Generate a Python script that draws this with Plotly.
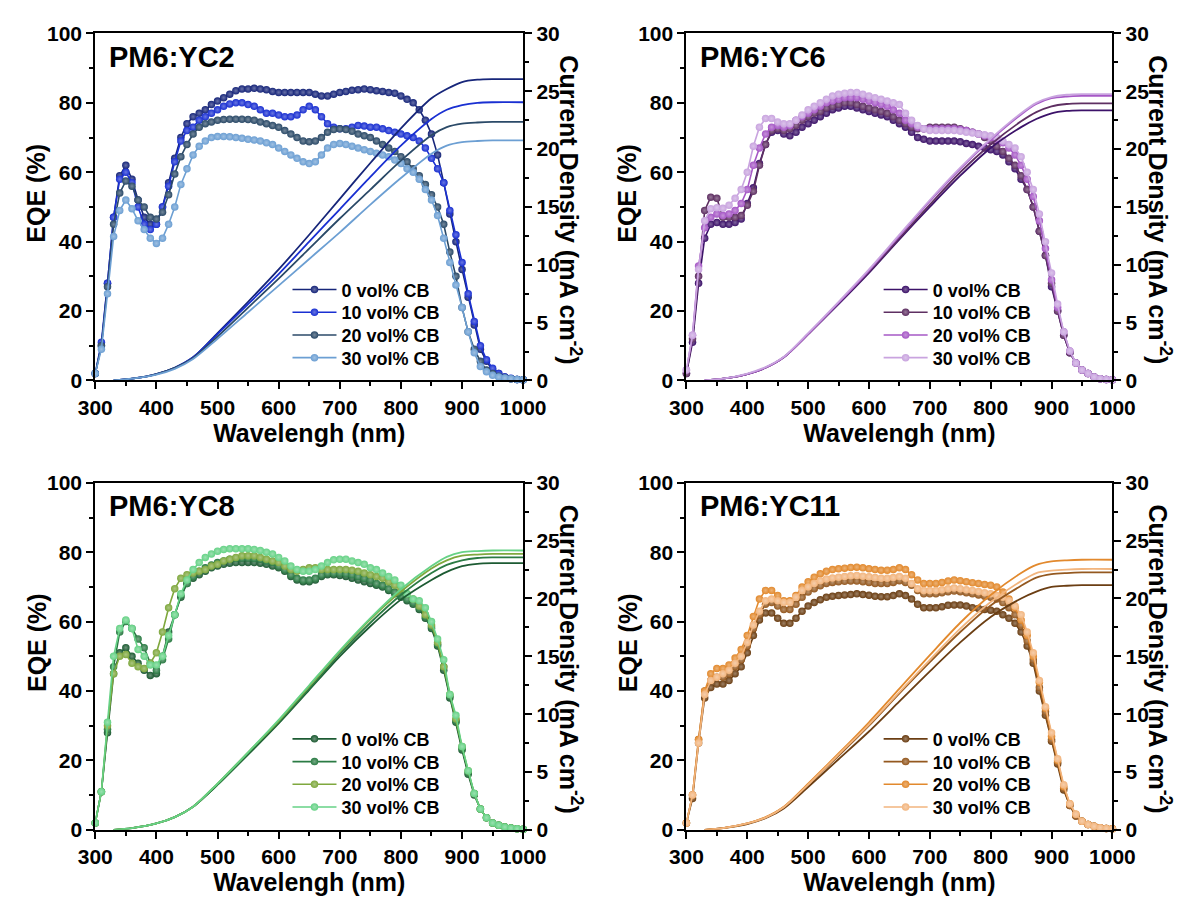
import plotly.graph_objects as go

# ---------------- data ----------------
WL = list(range(300, 1001, 10))          # EQE wavelength grid (nm)
JWL = [330, 360, 400, 430, 460, 500, 550, 600, 650, 700, 750, 800, 850, 875, 900, 925, 950, 1000]

SERIES = ["0 vol% CB", "10 vol% CB", "20 vol% CB", "30 vol% CB"]
PANELS = ["PM6:YC2", "PM6:YC6", "PM6:YC8", "PM6:YC11"]

X_TICKS = [300, 400, 500, 600, 700, 800, 900, 1000]
EQE_TICKS = [0, 20, 40, 60, 80, 100]
J_TICKS = [0, 5, 10, 15, 20, 25, 30]

# ---- PM6:YC2 ----
yc2_eqe_0 = [2, 10, 28, 47, 59, 62, 58, 52, 47, 45,
             45, 50, 57, 64, 70, 74, 76, 77, 78, 79.5,
             80.5, 81.5, 82.5, 83.5, 84, 84, 84.2, 84, 83.8, 83.3,
             83, 83, 83, 83, 83, 83, 82.5, 82, 82, 82.5,
             83, 83.3, 83.6, 83.8, 84, 83.8, 83.5, 83.3, 83, 82.8,
             82, 81, 80, 78, 75, 71, 65, 57, 48, 40,
             32, 24, 16, 9, 5.5, 3, 2, 1, 0.5, 0.3,
             0.2]
yc2_eqe_10 = [2, 11, 28, 47, 58, 60, 57, 50, 45, 43.5,
              45, 50, 56, 63, 69, 72, 73, 75, 76, 77,
              78, 79, 79.7, 80, 80, 79.5, 79, 78, 77, 77,
              76.5, 76, 76, 76.5, 78, 79, 78, 76, 74, 73,
              72.5, 72.5, 73, 73.5, 73.3, 73, 73, 72.5, 72, 71.5,
              71, 70.5, 70, 69, 67, 64, 61, 57, 49, 42,
              34, 25, 17, 10, 6, 3.5, 2, 1, 0.6, 0.3,
              0.2]
yc2_eqe_20 = [2, 10, 27, 45, 54, 57.5, 56, 52, 50, 47,
              46.5, 48.5, 53.5, 59.5, 64.5, 68, 71, 73, 74, 74.5,
              75, 75.2, 75.3, 75.3, 75.3, 75.2, 75, 74.5, 74, 73.5,
              73, 72, 71, 70, 69, 68.8, 69, 70, 71.5, 72.3,
              72.5, 72.3, 71.8, 71, 70.5, 70, 69, 68, 67, 66,
              64.5, 63, 61, 59, 56.5, 53.5, 50, 45, 37, 30,
              21, 14, 9, 5.5, 3, 2, 1.2, 0.8, 0.5, 0.3,
              0.2]
yc2_eqe_30 = [2, 9, 25, 41.5, 49, 52, 49.5, 46, 43.5, 41,
              39.5, 41, 45, 50, 56.5, 61, 65, 67.5, 69, 70,
              70.3, 70.3, 70.2, 70, 69.8, 69.5, 69.3, 69, 68.5, 68,
              67, 66, 65, 64, 63, 62.5, 63, 65, 67, 68,
              68.3, 68, 67.5, 67, 66.5, 66, 65.5, 65, 64.5, 63.5,
              62.5, 61, 60, 58, 55, 52, 47.5, 41, 34, 27.5,
              21, 14, 8, 4, 2.5, 1.5, 1, 0.7, 0.5, 0.3,
              0.2]
yc2_j_0 = [0, 0.15, 0.55, 1.1, 2.0, 4.1, 6.8, 9.6, 12.6, 15.7, 18.8, 21.8, 24.4, 25.2, 25.8, 26.0, 26.05, 26.05]
yc2_j_10 = [0, 0.15, 0.55, 1.1, 2.0, 4.0, 6.6, 9.2, 12.0, 14.8, 17.6, 20.3, 22.6, 23.4, 23.8, 24.0, 24.05, 24.05]
yc2_j_20 = [0, 0.15, 0.55, 1.1, 1.95, 3.8, 6.3, 8.8, 11.4, 14.0, 16.5, 19.0, 21.2, 21.9, 22.2, 22.3, 22.35, 22.35]
yc2_j_30 = [0, 0.15, 0.5, 1.0, 1.85, 3.6, 5.9, 8.2, 10.5, 12.8, 15.2, 17.5, 19.6, 20.3, 20.6, 20.7, 20.75, 20.75]

# ---- PM6:YC6 ----
yc6_eqe_0 = [2, 11, 28, 41, 45, 45.5, 45, 45, 45.5, 46.5,
             51, 55.5, 62.5, 68, 71.5, 72, 71, 70.5, 71.5, 73,
             74, 75, 76, 77, 78, 78.5, 79, 79, 78.5, 78,
             77.5, 77, 76.5, 76, 75, 74, 73, 71.5, 70, 69.5,
             69, 69, 69, 69, 69, 68.8, 68.3, 68, 67.5, 67,
             66.5, 66, 65, 63, 61, 58, 55, 50, 43, 36,
             27, 20, 13, 8, 5, 3, 2, 1, 0.5, 0.3,
             0.2]
yc6_eqe_10 = [2, 12, 30, 49, 52.8, 52.5, 47, 47, 47, 47.5,
              50.5, 54.5, 62, 68, 72, 72.5, 72, 72.5, 73.5, 75,
              76, 77, 77.5, 78.5, 79, 79.5, 80, 80, 79.5, 79,
              78.5, 78, 77.5, 77, 76, 75, 74, 73, 72.5, 72.5,
              73, 73, 73, 73, 73, 72.5, 72, 71.5, 71, 70,
              69, 67.5, 66, 64, 62, 59, 55, 50, 43, 36,
              28, 20, 13, 8, 5, 3, 2, 1, 0.5, 0.3,
              0.2]
yc6_eqe_20 = [3, 13, 33, 44, 47, 48, 47.5, 48, 49, 51,
              55, 62, 67, 71, 73, 73.5, 73, 73.5, 75, 76,
              77, 78, 79, 80, 80.5, 81, 81.5, 81.5, 81.5, 81,
              80.5, 80, 79.5, 79, 78, 77, 75, 74, 73, 72.5,
              72.5, 72.5, 72.5, 72.5, 72.5, 72.3, 72, 71.5, 71, 70.5,
              70, 69.5, 68.5, 67, 65, 62, 58, 53, 46, 38,
              29, 21, 14, 8.5, 5, 3, 2, 1, 0.5, 0.3,
              0.2]
yc6_eqe_30 = [3, 13, 32, 46, 49.5, 49.8, 49.6, 50.5, 52.5, 55,
              60, 67.5, 73, 75.5, 75.5, 74.5, 74, 74, 75, 76.5,
              78, 79, 80, 81, 82, 82.5, 82.8, 83, 83, 82.5,
              82, 81.5, 81, 80.5, 80, 79.5, 77, 75, 73.5, 72.5,
              72, 72, 72, 72, 72, 71.8, 71.5, 71.3, 71, 70.8,
              70.5, 70, 69, 68, 67, 64.5, 60, 55, 48, 40,
              31, 22, 14, 8.5, 5, 3, 2, 1, 0.5, 0.3,
              0.2]
yc6_j_0 = [0, 0.15, 0.55, 1.1, 2.0, 4.0, 6.6, 9.3, 12.2, 15.0, 17.7, 20.1, 21.9, 22.6, 23.1, 23.3, 23.35, 23.35]
yc6_j_10 = [0, 0.15, 0.55, 1.1, 2.0, 4.0, 6.7, 9.4, 12.3, 15.2, 18.0, 20.4, 22.4, 23.2, 23.7, 23.9, 23.95, 23.95]
yc6_j_20 = [0, 0.15, 0.55, 1.1, 2.0, 4.0, 6.7, 9.5, 12.5, 15.5, 18.3, 20.8, 23.0, 23.9, 24.4, 24.55, 24.6, 24.6]
yc6_j_30 = [0, 0.15, 0.6, 1.15, 2.05, 4.1, 6.8, 9.6, 12.6, 15.6, 18.4, 20.9, 23.1, 24.0, 24.5, 24.7, 24.75, 24.75]

# ---- PM6:YC8 ----
yc8_eqe_0 = [2, 11, 28, 45, 51, 52.5, 50, 48, 46, 44.5,
             45, 50, 57, 62, 67, 71, 72.5, 73.5, 74.5, 75.5,
             76, 76.5, 76.8, 77, 77, 77, 77, 76.8, 76.5, 76,
             75.5, 74.5, 73, 72, 71.5, 71.5, 72, 73, 73.5, 73.5,
             73.3, 73, 72.5, 72, 71.5, 71, 70.5, 70, 69, 68,
             67, 66, 65, 63.5, 61, 58, 53, 46, 38, 31,
             23, 16, 10, 6, 3.5, 2, 1.3, 0.8, 0.5, 0.3,
             0.2]
yc8_eqe_10 = [2, 11, 29, 47, 57, 60, 58, 55, 52.5, 48,
              46, 49, 55, 62, 67.5, 71, 73, 74.5, 75.5, 76.3,
              77, 77.5, 78, 78.2, 78.3, 78.3, 78.2, 78, 77.5, 77,
              76, 75, 73.5, 72.5, 72, 72, 72.5, 73.5, 74, 74,
              74, 73.8, 73.5, 73, 72.5, 72, 71, 70.5, 69.5, 68.5,
              67.5, 66.5, 65.5, 64, 61.5, 58.5, 53.5, 47, 38.5, 31.5,
              23.5, 16.5, 10.5, 6, 3.5, 2, 1.3, 0.8, 0.5, 0.3,
              0.2]
yc8_eqe_20 = [2, 11, 30, 45, 50, 50.5, 48, 47, 46.5, 48,
              51, 57, 64, 69.5, 72.5, 73.5, 74, 74.5, 75, 76,
              76.5, 77.5, 78, 78.5, 79, 79, 79, 78.5, 78, 77.5,
              77, 76, 75, 74.5, 75, 75.5, 75.5, 75, 75, 75,
              75, 75, 74.8, 74.5, 74, 73.5, 73, 72.5, 71.5, 70.5,
              69.5, 68, 66.5, 64.5, 62, 59, 54, 47, 39, 32,
              24, 17, 10.5, 6, 3.5, 2, 1.3, 0.8, 0.5, 0.3,
              0.2]
yc8_eqe_30 = [2, 11, 31, 50, 58, 60.5, 58, 52, 50, 47.5,
              47.5, 50, 56, 62, 68, 72, 75, 77, 78.5, 79.5,
              80.3, 80.8, 81, 81, 81, 81, 80.8, 80.5, 80, 79.5,
              78.5, 77.5, 76, 75, 74.5, 74.5, 75, 76, 77, 77.8,
              78, 78, 77.5, 77, 76.5, 75.5, 75, 74, 73, 72,
              70.5, 68, 66.5, 66, 64, 60, 55, 49, 39, 33,
              24, 17, 10.5, 6, 3.5, 2, 1.3, 0.8, 0.5, 0.3,
              0.2]
yc8_j_0 = [0, 0.15, 0.55, 1.1, 2.0, 3.9, 6.5, 9.2, 12.1, 15.0, 17.6, 19.9, 21.6, 22.3, 22.8, 23.0, 23.05, 23.05]
yc8_j_10 = [0, 0.15, 0.55, 1.1, 2.0, 3.9, 6.6, 9.3, 12.2, 15.2, 17.9, 20.3, 22.2, 22.9, 23.3, 23.5, 23.55, 23.55]
yc8_j_20 = [0, 0.15, 0.55, 1.1, 2.0, 4.0, 6.7, 9.4, 12.4, 15.4, 18.2, 20.6, 22.6, 23.3, 23.7, 23.8, 23.85, 23.85]
yc8_j_30 = [0, 0.15, 0.55, 1.1, 2.0, 4.0, 6.7, 9.5, 12.5, 15.5, 18.3, 20.8, 22.8, 23.6, 24.0, 24.1, 24.15, 24.15]

# ---- PM6:YC11 ----
yc11_eqe_0 = [2, 9, 25, 38, 41, 42, 42, 43, 45, 47,
              51, 56, 60.5, 62.5, 62.5, 61, 59.5, 59.5, 61, 63,
              64.5, 65.5, 66.3, 67, 67.3, 67.5, 67.7, 67.8, 68, 67.8,
              67.6, 67.3, 67.2, 67.2, 67.5, 68, 67.5, 66.5, 65, 64,
              64, 64, 64.3, 64.7, 64.8, 64.8, 64.5, 64, 63.8, 63.5,
              63.3, 63, 62, 61, 59.5, 57, 53, 48, 40, 33,
              25.5, 19, 11.5, 7, 4, 2.5, 1.5, 1, 0.6, 0.4,
              0.3]
yc11_eqe_10 = [2, 10, 26, 40, 43, 44, 44, 45, 47, 49,
               53, 58, 62, 65, 65.5, 64.5, 63.5, 63.5, 65, 67,
               68.5, 69.5, 70.3, 71, 71.3, 71.5, 71.6, 71.7, 71.7, 71.5,
               71.3, 71, 71, 71, 71.3, 71.8, 71.3, 70.5, 69, 68,
               68, 68, 68.3, 68.6, 68.8, 68.6, 68.3, 68, 67.7, 67.3,
               67, 66.5, 65.5, 64, 62, 59, 54.5, 49, 41, 34,
               26, 19.5, 12, 7, 4, 2.5, 1.5, 1, 0.6, 0.4,
               0.3]
yc11_eqe_20 = [2, 10, 26, 40, 45, 46.5, 46.5, 47.5, 49.5, 52,
               56, 61.5, 66.5, 69, 69, 67.5, 66, 66, 67.5, 70,
               71.5, 72.8, 73.8, 74.5, 75, 75.2, 75.4, 75.6, 75.7, 75.5,
               75.2, 75, 74.8, 74.8, 75, 75.5, 75, 73.5, 72, 71,
               71, 71, 71.3, 71.7, 72, 71.8, 71.5, 71.2, 71, 70.7,
               70.5, 70, 68.5, 66.5, 64, 60.5, 56, 50, 42.5, 35,
               27, 20, 12.5, 7.5, 4.5, 2.5, 1.5, 1, 0.6, 0.4,
               0.3]
yc11_eqe_30 = [2, 10, 25, 39, 43, 44, 45, 46, 48, 50,
               54, 59, 63, 66, 66.5, 66, 65.5, 65.5, 67, 69,
               70, 71, 71.8, 72.3, 72.6, 72.8, 73, 73.2, 73.3, 73.1,
               72.9, 72.7, 72.5, 72.5, 72.7, 73, 72.5, 71, 69.5, 69,
               69, 69, 69.2, 69.5, 69.7, 69.5, 69.2, 69, 68.7, 68.3,
               68, 67.5, 67, 66, 64.5, 62, 57, 51, 43, 35.5,
               28, 20.5, 13, 7.5, 4.5, 2.5, 1.5, 1, 0.6, 0.4,
               0.3]
yc11_j_0 = [0, 0.15, 0.5, 1.0, 1.85, 3.7, 6.1, 8.5, 11.1, 13.7, 16.2, 18.4, 20.0, 20.6, 21.0, 21.1, 21.15, 21.15]
yc11_j_10 = [0, 0.15, 0.55, 1.05, 1.95, 3.9, 6.4, 9.0, 11.8, 14.5, 17.1, 19.4, 21.1, 21.8, 22.1, 22.2, 22.25, 22.25]
yc11_j_20 = [0, 0.15, 0.55, 1.1, 2.0, 4.0, 6.6, 9.3, 12.2, 15.1, 17.9, 20.3, 22.2, 22.9, 23.2, 23.3, 23.35, 23.35]
yc11_j_30 = [0, 0.15, 0.55, 1.05, 1.95, 3.9, 6.5, 9.1, 11.9, 14.7, 17.4, 19.7, 21.5, 22.2, 22.4, 22.5, 22.55, 22.55]

EQE = [[yc2_eqe_0, yc2_eqe_10, yc2_eqe_20, yc2_eqe_30],
       [yc6_eqe_0, yc6_eqe_10, yc6_eqe_20, yc6_eqe_30],
       [yc8_eqe_0, yc8_eqe_10, yc8_eqe_20, yc8_eqe_30],
       [yc11_eqe_0, yc11_eqe_10, yc11_eqe_20, yc11_eqe_30]]
JSC = [[yc2_j_0, yc2_j_10, yc2_j_20, yc2_j_30],
       [yc6_j_0, yc6_j_10, yc6_j_20, yc6_j_30],
       [yc8_j_0, yc8_j_10, yc8_j_20, yc8_j_30],
       [yc11_j_0, yc11_j_10, yc11_j_20, yc11_j_30]]

# ---------------- style ----------------
COLORS = [["#17267a", "#1a30d2", "#2b4a68", "#6c9fd3"],
          ["#3c1269", "#5e2f62", "#a658c6", "#c9a4df"],
          ["#1d5b33", "#2b7b44", "#7fa83e", "#66d286"],
          ["#6b3e13", "#94581f", "#e2892d", "#f2b57e"]]


def tint(hexcol, f=0.35):
    h = hexcol.lstrip("#")
    r, g, b = int(h[0:2], 16), int(h[2:4], 16), int(h[4:6], 16)
    r = int(r + (255 - r) * f)
    g = int(g + (255 - g) * f)
    b = int(b + (255 - b) * f)
    return "#%02x%02x%02x" % (r, g, b)


W, H = 1203, 911
# plot boxes in pixels: (left, right, top, bottom)
BOXES = [(80, 523, 22, 378), (692, 1133, 22, 378),
         (80, 523, 483, 839), (692, 1133, 483, 839)]
FONT = "Arial, 'Liberation Sans', Helvetica, sans-serif"
TICKF = dict(family=FONT, size=21, color="black", weight="bold")
TITLEF = dict(family=FONT, size=25, color="black", weight="bold")
LEG_ROW = 23.3

fig = go.Figure()
layout = dict(width=W, height=H, margin=dict(l=0, r=0, t=0, b=0),
              paper_bgcolor="white", plot_bgcolor="white", showlegend=True,
              font=dict(family=FONT, color="black"))
annotations = []

for p in range(4):
    x0, x1, y0, y1 = BOXES[p]
    xn = "x" if p == 0 else "x%d" % (p + 1)
    yl = "y" if p == 0 else "y%d" % (2 * p + 1)
    yr = "y%d" % (2 * p + 2)
    xkey = "xaxis" if p == 0 else "xaxis%d" % (p + 1)
    ylkey = "yaxis" if p == 0 else "yaxis%d" % (2 * p + 1)
    yrkey = "yaxis%d" % (2 * p + 2)

    dom_x = [x0 / W, x1 / W]
    dom_y = [1 - y1 / H, 1 - y0 / H]

    layout[xkey] = dict(domain=dom_x, anchor=yl, range=[300, 1000],
                        tickvals=X_TICKS, ticks="outside", ticklen=7, tickwidth=2,
                        tickcolor="black", showline=True, linewidth=2, linecolor="black",
                        mirror=True, showgrid=False, zeroline=False, tickfont=TICKF,
                        title=dict(text="Wavelengh (nm)", font=TITLEF, standoff=6),
                        minor=dict(dtick=50, ticks="outside", ticklen=4, tickwidth=1.5,
                                   tickcolor="black", showgrid=False))
    layout[ylkey] = dict(domain=dom_y, anchor=xn, range=[0, 100],
                         tickvals=EQE_TICKS, ticks="outside", ticklen=7, tickwidth=2,
                         tickcolor="black", showline=True, linewidth=2, linecolor="black",
                         showgrid=False, zeroline=False, tickfont=TICKF,
                         minor=dict(dtick=10, ticks="outside", ticklen=4, tickwidth=1.5,
                                    tickcolor="black", showgrid=False))
    layout[yrkey] = dict(domain=dom_y, anchor=xn, overlaying=yl, side="right",
                         range=[0, 30], tickvals=J_TICKS, ticks="outside", ticklen=7,
                         tickwidth=2, tickcolor="black", showline=True, linewidth=2,
                         linecolor="black", showgrid=False, zeroline=False, tickfont=TICKF,
                         minor=dict(dtick=2.5, ticks="outside", ticklen=4, tickwidth=1.5,
                                    tickcolor="black", showgrid=False))

    for s in range(4):
        c = COLORS[p][s]
        fig.add_trace(go.Scatter(
            x=JWL, y=JSC[p][s], xaxis=xn, yaxis=yr, mode="lines",
            line=dict(color=c, width=1.8, shape="spline", smoothing=0.8),
            showlegend=False, hoverinfo="skip"))
    for s in range(4):
        c = COLORS[p][s]
        n = p * 4 + s + 1
        legkey = "legend" if n == 1 else "legend%d" % n
        layout[legkey] = dict(x=(x0 + 199) / W, y=1 - (y0 + 263 + s * LEG_ROW) / H,
                              xanchor="left", yanchor="middle",
                              bgcolor="rgba(0,0,0,0)", borderwidth=0,
                              font=dict(family=FONT, size=18, color="black", weight="bold"),
                              itemwidth=44)
        fig.add_trace(go.Scatter(
            x=WL, y=EQE[p][s], xaxis=xn, yaxis=yl, mode="lines+markers",
            name=SERIES[s], legend=legkey, cliponaxis=False,
            line=dict(color=c, width=1.6),
            marker=dict(size=7.5, color=c, line=dict(width=0),
                        gradient=dict(type="radial", color=tint(c)))))

    # panel label
    annotations.append(dict(text="<b>%s</b>" % PANELS[p], xref="paper", yref="paper",
                            x=(x0 + 12) / W, y=1 - (y0 + 24) / H, xanchor="left",
                            yanchor="middle", showarrow=False,
                            font=dict(family=FONT, size=29, color="black")))
    # left title
    annotations.append(dict(text="<b>EQE (%)</b>", xref="paper", yref="paper",
                            x=(x0 - 61) / W, y=1 - (y0 + 164) / H, xanchor="center",
                            yanchor="middle", showarrow=False, textangle=-90,
                            font=dict(family=FONT, size=25, color="black")))
    # right title (reads top-to-bottom as in the original)
    annotations.append(dict(text="<b>Current Density (mA cm<sup>-2</sup>)</b>",
                            xref="paper", yref="paper",
                            x=(x1 + 49) / W, y=1 - (y0 + 181) / H, xanchor="center",
                            yanchor="middle", showarrow=False, textangle=90,
                            font=dict(family=FONT, size=25, color="black")))

layout["annotations"] = annotations
fig.update_layout(**layout)
fig.write_html("out.html")
